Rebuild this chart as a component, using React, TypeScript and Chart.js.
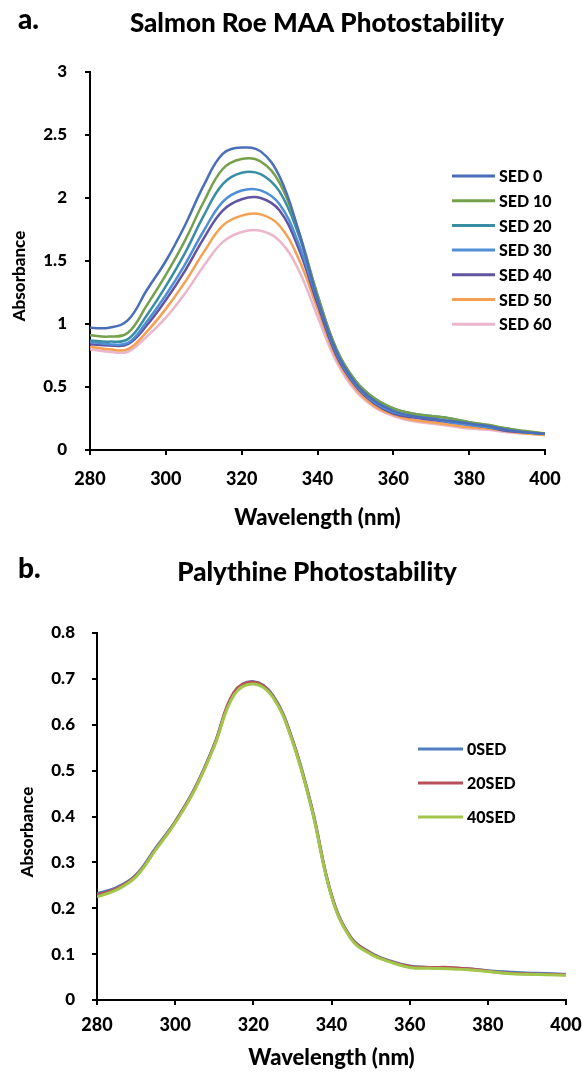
import React, { useEffect, useRef } from "react";
import { Chart, registerables } from "chart.js";

Chart.register(...registerables);

// ---------- DATA ----------
const wavelengths = [280, 285, 290, 295, 300, 305, 310, 315, 320, 325, 330, 335, 340, 345, 350, 355, 360, 365, 370, 375, 380, 385, 390, 395, 400];

const salmonLabels = ["SED 0", "SED 10", "SED 20", "SED 30", "SED 40", "SED 50", "SED 60"];
const salmonSed0 = [0.97, 0.97, 1.03, 1.27, 1.50, 1.78, 2.10, 2.35, 2.40, 2.37, 2.17, 1.74, 1.20, 0.78, 0.53, 0.39, 0.31, 0.27, 0.25, 0.23, 0.21, 0.19, 0.16, 0.14, 0.13];
const salmonSed10 = [0.91, 0.90, 0.93, 1.15, 1.39, 1.66, 1.97, 2.23, 2.31, 2.29, 2.12, 1.74, 1.23, 0.80, 0.55, 0.41, 0.33, 0.29, 0.27, 0.25, 0.22, 0.20, 0.17, 0.15, 0.13];
const salmonSed20 = [0.87, 0.86, 0.88, 1.07, 1.30, 1.56, 1.86, 2.11, 2.20, 2.19, 2.05, 1.71, 1.23, 0.80, 0.55, 0.41, 0.33, 0.29, 0.27, 0.25, 0.22, 0.19, 0.17, 0.14, 0.13];
const salmonSed30 = [0.86, 0.84, 0.85, 1.02, 1.23, 1.47, 1.74, 1.97, 2.06, 2.06, 1.95, 1.64, 1.19, 0.77, 0.52, 0.38, 0.30, 0.27, 0.25, 0.22, 0.20, 0.18, 0.16, 0.14, 0.13];
const salmonSed40 = [0.84, 0.83, 0.84, 0.99, 1.19, 1.42, 1.68, 1.90, 1.99, 2.00, 1.90, 1.60, 1.16, 0.75, 0.51, 0.37, 0.29, 0.26, 0.24, 0.22, 0.20, 0.18, 0.15, 0.14, 0.13];
const salmonSed50 = [0.82, 0.80, 0.80, 0.94, 1.12, 1.33, 1.57, 1.78, 1.86, 1.87, 1.78, 1.52, 1.12, 0.73, 0.49, 0.35, 0.28, 0.24, 0.22, 0.20, 0.18, 0.17, 0.15, 0.13, 0.12];
const salmonSed60 = [0.80, 0.78, 0.78, 0.90, 1.05, 1.24, 1.46, 1.65, 1.73, 1.74, 1.66, 1.43, 1.06, 0.70, 0.47, 0.34, 0.27, 0.23, 0.21, 0.19, 0.17, 0.16, 0.14, 0.13, 0.12];
const salmonColors = ["#4a6fb8", "#76a04c", "#3a8ea4", "#4f8fd6", "#6154a2", "#f5a052", "#ebb6cb"];

const palyLabels = ["0SED", "20SED", "40SED"];
const paly0 = [0.232, 0.245, 0.273, 0.331, 0.389, 0.461, 0.556, 0.668, 0.694, 0.664, 0.568, 0.418, 0.229, 0.136, 0.103, 0.085, 0.074, 0.071, 0.070, 0.068, 0.064, 0.061, 0.059, 0.058, 0.056];
const paly20 = [0.229, 0.243, 0.271, 0.329, 0.388, 0.460, 0.556, 0.670, 0.693, 0.662, 0.566, 0.416, 0.228, 0.135, 0.102, 0.084, 0.073, 0.071, 0.071, 0.068, 0.063, 0.059, 0.057, 0.056, 0.055];
const paly40 = [0.225, 0.240, 0.269, 0.327, 0.386, 0.458, 0.553, 0.664, 0.689, 0.660, 0.564, 0.414, 0.226, 0.133, 0.100, 0.083, 0.071, 0.069, 0.068, 0.066, 0.062, 0.058, 0.056, 0.055, 0.054];
const palyColors = ["#4f7fc2", "#b8505a", "#a2c64c"];

const FONT = "Lato, 'Open Sans', 'DejaVu Sans', sans-serif";
const W8 = "900";

const fmt = (v: any) => String(Number(Number(v).toFixed(2)));

const decorPlugin = {
  id: "decor",
  afterDraw(chart: any, _args: any, o: any) {
    const ctx = chart.ctx;
    ctx.save();
    ctx.fillStyle = "#000";
    ctx.textBaseline = "middle";
    ctx.textAlign = "left";
    ctx.font = `${W8} ${o.letterSize}px ${FONT}`;
    ctx.fillText(o.letter, o.letterX, o.letterY);
    ctx.textAlign = "center";
    ctx.font = `${W8} ${o.titleSize}px ${FONT}`;
    ctx.fillText(o.title, o.titleX, o.titleY);
    ctx.save();
    ctx.translate(o.yTitleX, o.yTitleY);
    ctx.rotate(-Math.PI / 2);
    ctx.font = `${W8} ${o.yTitleSize}px ${FONT}`;
    ctx.fillText(o.yTitle, 0, 0);
    ctx.restore();
    // legend
    ctx.textAlign = "left";
    ctx.font = `${W8} ${o.legendSize}px ${FONT}`;
    chart.data.datasets.forEach((ds: any, i: number) => {
      const y = o.legendY + i * o.legendGap;
      ctx.strokeStyle = ds.borderColor;
      ctx.lineWidth = 3;
      ctx.lineCap = "butt";
      ctx.beginPath();
      ctx.moveTo(o.legendX1, y);
      ctx.lineTo(o.legendX2, y);
      ctx.stroke();
      ctx.fillStyle = "#000";
      ctx.fillText(ds.label, o.legendTextX, y + 1);
    });
    ctx.restore();
  },
};

type PanelProps = {
  top: number;
  height: number;
  area: { left: number; top: number; right: number; bottom: number };
  labels: string[];
  series: number[][];
  colors: string[];
  orders: number[];
  yMax: number;
  yStep: number;
  decor: any;
  xTitlePad: number;
  xTickPad: number;
  yTickPad: number;
  lineWidth: number;
};

function Panel(p: PanelProps) {
  const ref = useRef<HTMLCanvasElement | null>(null);
  useEffect(() => {
    if (!ref.current) return;
    const W = 582;
    const H = p.height;
    const datasets = p.labels.map((label, i) => ({
      label,
      data: wavelengths.map((w, j) => ({ x: w, y: p.series[i][j] })),
      borderColor: p.colors[i],
      backgroundColor: p.colors[i],
      borderWidth: p.lineWidth,
      pointRadius: 0,
      tension: 0.4,
      fill: false,
      order: p.orders[i],
    }));
    const chart = new Chart(ref.current, {
      type: "line",
      data: { datasets },
      options: {
        responsive: false,
        animation: false,
        layout: { padding: { left: 0, top: p.area.top, right: W - p.area.right, bottom: 0 } },
        plugins: {
          legend: { display: false },
          tooltip: { enabled: false },
          decor: p.decor,
        } as any,
        scales: {
          x: {
            type: "linear",
            min: 280,
            max: 400,
            ticks: {
              stepSize: 20,
              padding: p.xTickPad,
              color: "#000",
              font: { family: FONT, size: 18, weight: W8 },
              maxRotation: 0,
              callback: (v: any) => fmt(v),
            },
            grid: { display: true, drawOnChartArea: false, drawTicks: true, tickLength: 5, color: "#000", lineWidth: 2 },
            border: { display: true, color: "#000", width: 2 },
            title: {
              display: true,
              text: "Wavelength (nm)",
              color: "#000",
              font: { family: FONT, size: 22, weight: W8 },
              padding: { top: 0, bottom: p.xTitlePad },
            },
            afterFit: (s: any) => {
              s.height = H - p.area.bottom;
              s.paddingRight = 0;
              s.paddingLeft = 0;
            },
          },
          y: {
            type: "linear",
            min: 0,
            max: p.yMax,
            ticks: {
              stepSize: p.yStep,
              padding: p.yTickPad,
              color: "#000",
              font: { family: FONT, size: 17, weight: W8 },
              callback: (v: any) => fmt(v),
            },
            grid: { display: true, drawOnChartArea: false, drawTicks: true, tickLength: 5, color: "#000", lineWidth: 2 },
            border: { display: true, color: "#000", width: 2 },
            afterFit: (s: any) => {
              s.width = p.area.left;
              s.paddingTop = 0;
              s.paddingBottom = 0;
            },
          },
        },
      },
      plugins: [decorPlugin],
    });
    return () => chart.destroy();
  }, []);
  return (
    <canvas
      ref={ref}
      width={582}
      height={p.height}
      style={{ position: "absolute", left: 0, top: p.top, width: 582, height: p.height }}
    />
  );
}

export default function App() {
  return (
    <div style={{ position: "absolute", left: 0, top: 0, width: 582, height: 1076, background: "#fff", overflow: "hidden" }}>
      <Panel
        top={0}
        height={540}
        area={{ left: 90, top: 72, right: 545, bottom: 450 }}
        labels={salmonLabels}
        series={[salmonSed0, salmonSed10, salmonSed20, salmonSed30, salmonSed40, salmonSed50, salmonSed60]}
        colors={salmonColors}
        orders={[0, 1, 2, 3, 4, 5, 6]}
        yMax={3}
        yStep={0.5}
        xTitlePad={9}
        xTickPad={13}
        yTickPad={18}
        lineWidth={2.5}
        decor={{
          letter: "a.", letterX: 18, letterY: 20, letterSize: 28,
          title: "Salmon Roe MAA Photostability", titleX: 317, titleY: 24, titleSize: 26,
          yTitle: "Absorbance", yTitleX: 20, yTitleY: 276, yTitleSize: 17,
          legendY: 176, legendGap: 24.7, legendX1: 452, legendX2: 495, legendTextX: 499, legendSize: 16,
        }}
      />
      <Panel
        top={540}
        height={536}
        area={{ left: 97, top: 93, right: 566, bottom: 460 }}
        labels={palyLabels}
        series={[paly0, paly20, paly40]}
        colors={palyColors}
        orders={[2, 1, 0]}
        yMax={0.8}
        yStep={0.1}
        xTitlePad={5}
        xTickPad={9}
        yTickPad={17}
        lineWidth={3}
        decor={{
          letter: "b.", letterX: 18, letterY: 29, letterSize: 28,
          title: "Palythine Photostability", titleX: 317, titleY: 33, titleSize: 26,
          yTitle: "Absorbance", yTitleX: 28, yTitleY: 292, yTitleSize: 17,
          legendY: 209, legendGap: 34, legendX1: 418, legendX2: 463, legendTextX: 467, legendSize: 16,
        }}
      />
    </div>
  );
}
